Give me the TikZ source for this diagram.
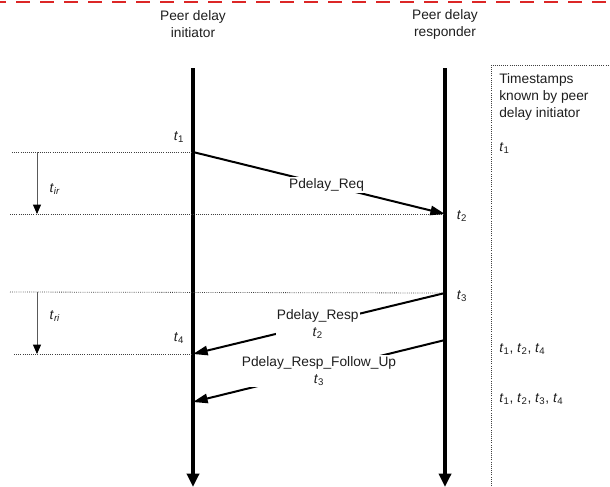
\documentclass[tikz,border=0pt]{standalone}
\usepackage{fontspec}
\setmainfont{Liberation Sans}
\usetikzlibrary{arrows.meta}
\newcommand\tsub[1]{\textit{t}\textsubscript{#1}}
\definecolor{dashred}{RGB}{220,38,38}
\definecolor{ink}{RGB}{30,30,30}
\begin{document}
\begin{tikzpicture}[x=0.75pt,y=-0.75pt,
  every node/.style={font=\fontsize{10.3}{12.8}\selectfont, inner sep=0pt, text=ink},
  life/.style={line width=3pt,-{Triangle[length=10pt,width=9pt]}},
  msg/.style={line width=1.5pt,-{Triangle[length=11pt,width=7pt]}},
  dotline/.style={densely dotted,line width=0.6pt,black!75},
  span/.style={line width=0.6pt,black!65,-{Triangle[length=7pt,width=6pt,color=black]}},
  lbl/.style={fill=white,align=center,inner sep=1pt},
  head/.style={align=center}]
\clip (0,0) rectangle (610,486);
% top red dashed rule
\coordinate (redL) at (0,2);
\coordinate (redR) at (610,2);
\draw[dashred,line width=2pt,dash pattern=on 10.5pt off 7.5pt,dash phase=6pt] (redL) -- (redR);
% headings
\node[head] (hini) at (193,24) {Peer delay\\initiator};
\node[head] (hres) at (445,24) {Peer delay\\responder};
% lifelines
\coordinate (iTop) at (193,68);
\coordinate (iBot) at (193,487);
\coordinate (rTop) at (445,68);
\coordinate (rBot) at (445,487);
\draw[life] (iTop) -- (iBot);
\draw[life] (rTop) -- (rBot);
% timestamp box
\coordinate (boxTL) at (491,65);
\coordinate (boxTR) at (612,65);
\coordinate (boxBL) at (491,488);
\draw[dotline] (boxBL) -- (boxTL) -- (boxTR);
\node[anchor=north west,align=left] (boxtitle) at (499,73) {Timestamps\\known by peer\\delay initiator};
\node[anchor=west] (k1) at (499,148) {\tsub{1}};
\node[anchor=west] (k2) at (499,349) {\tsub{1}, \tsub{2}, \tsub{4}};
\node[anchor=west] (k3) at (499,399) {\tsub{1}, \tsub{2}, \tsub{3}, \tsub{4}};
% event points
\coordinate (e1) at (193,152);
\coordinate (e2) at (445,214);
\coordinate (e3) at (445,293);
\coordinate (e4) at (193,354);
\coordinate (e5) at (445,340);
\coordinate (e6) at (193,402);
% dotted reference lines
\coordinate (d1) at (12,152);
\coordinate (d2) at (10,214);
\coordinate (d3) at (10,292);
\coordinate (d4) at (14,354);
\draw[dotline] (d1) -- (e1);
\draw[dotline] (d2) -- (e2);
\draw[dotline] (d3) -- (e3);
\draw[dotline] (d4) -- (e4);
% interval arrows
\coordinate (irA) at (37,152);
\coordinate (irB) at (37,214);
\coordinate (riA) at (37,292);
\coordinate (riB) at (37,354);
\draw[span] (irA) -- (irB);
\draw[span] (riA) -- (riB);
\node (tir) at (55,189) {\textit{t}\textsubscript{\textit{ir}}};
\node (tri) at (55,316) {\textit{t}\textsubscript{\textit{ri}}};
% timestamp labels at lifelines
\node (t1) at (179,137) {\tsub{1}};
\node (t2) at (462,216) {\tsub{2}};
\node (t3) at (462,296) {\tsub{3}};
\node (t4) at (179,338) {\tsub{4}};
% messages
\draw[msg] (e1) -- (e2) node[lbl,pos=0.53] (req) {Pdelay\_Req};
\draw[msg] (e3) -- (e4) node[lbl,pos=0.505] (resp) {Pdelay\_Resp\\\tsub{2}};
\draw[msg] (e5) -- (e6) node[lbl,pos=0.5] (fup) {Pdelay\_Resp\_Follow\_Up\\\tsub{3}};
\end{tikzpicture}
\end{document}
